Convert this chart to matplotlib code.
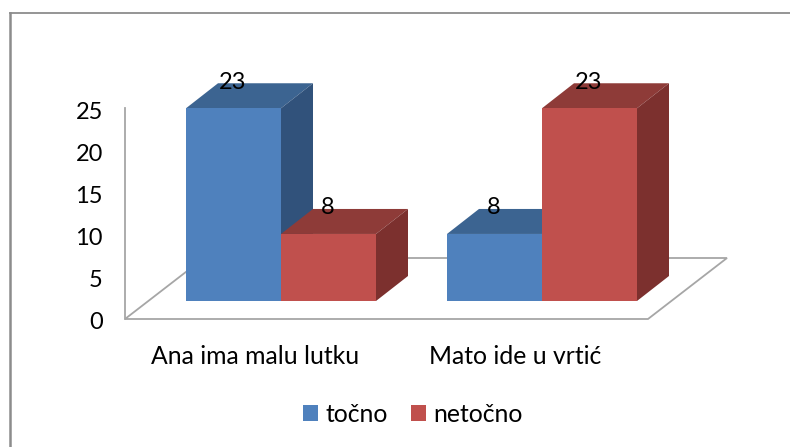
import matplotlib
matplotlib.use("Agg")
import numpy as np
import matplotlib.pyplot as plt
from matplotlib.lines import Line2D
from matplotlib.patches import Polygon, Patch
from matplotlib.transforms import Affine2D

plt.rcParams['font.family'] = ['Lato', 'DejaVu Sans']

categories = ["Ana ima malu lutku", "Mato ide u vrtić"]
series_names = ["točno", "netočno"]
tocno = [23, 8]
netocno = [8, 23]
y_ticks = [0, 5, 10, 15, 20, 25]

W, H = 790, 447
fig = plt.figure(figsize=(W / 100, H / 100), dpi=100)
fig.patch.set_facecolor("white")

# frame of the chart area (only left and top survive in the screenshot)
fig.add_artist(Line2D([10 / W, 10 / W], [0, 1 - 13 / H], color="#8c8c8c", lw=1.8))
fig.add_artist(Line2D([10 / W, 1], [1 - 13 / H, 1 - 13 / H], color="#8c8c8c", lw=1.3))

# axes spans the left wall to the front right floor corner
left, right, bottom, top = 125, 648, 319, 109.5
ax = fig.add_axes([left / W, 1 - bottom / H, (right - left) / W, (bottom - top) / H])
cat_px = 261.0
y_px = (bottom - top) / 25.0
ax.set_xlim((left - 281) / cat_px, (right - 281) / cat_px)
ax.set_ylim(0, 25)
ax.patch.set_alpha(0)

for s in ["top", "right", "bottom"]:
    ax.spines[s].set_visible(False)
ax.spines["left"].set_color("#a6a6a6")
ax.spines["left"].set_linewidth(1.3)
ax.spines["left"].set_bounds(0, 25.2)

# floor
fdx, fdy = 79 / cat_px, 61 / y_px
x0, x1 = ax.get_xlim()
ax.add_patch(Polygon([(x0, 0), (x1, 0), (x1 + fdx, fdy), (x0 + fdx, fdy)], closed=True,
                     fc="white", ec="#a6a6a6", lw=1.3, clip_on=False, zorder=1))

# bars sit 18 px in front of the axis base line in screen space
bar_tr = ax.transData + Affine2D().translate(0, 18)
width = 95 / cat_px
dx, dy = 32 / cat_px, 25 / y_px
x = np.arange(len(categories))

styles = [
    (tocno, -width / 2, "#4f81bd", "#3c6491", "#31527b"),
    (netocno, width / 2, "#c0504d", "#8e3b38", "#7c302e"),
]
z = 2
for i in x:
    for vals, off, front, roof, side in styles:
        v = vals[i]
        xl = i + off - width / 2
        xr = xl + width
        ax.add_patch(Polygon([(xl, v), (xr, v), (xr + dx, v + dy), (xl + dx, v + dy)], closed=True,
                             fc=roof, ec="none", transform=bar_tr, clip_on=False, zorder=z))
        ax.add_patch(Polygon([(xr, 0), (xr + dx, dy), (xr + dx, v + dy), (xr, v)], closed=True,
                             fc=side, ec="none", transform=bar_tr, clip_on=False, zorder=z))
        ax.bar(i + off, v, width=width, color=front, transform=bar_tr, clip_on=False, zorder=z + 0.5)
        ax.annotate(str(v), (i + off, v), xycoords=bar_tr, xytext=(-0.5, 26 * 0.72), textcoords="offset points",
                    ha="center", va="center", fontsize=17, color="black", zorder=50)
        z += 1

ax.set_yticks(y_ticks)
ax.set_xticks(x - np.array([26, 27]) / cat_px, categories)
ax.tick_params(axis="y", length=0, pad=16, labelsize=17)
ax.tick_params(axis="x", length=0, pad=19, labelsize=17.8)
for lab in ax.get_yticklabels():
    lab.set_y(lab.get_position()[1])
    lab.set_transform(lab.get_transform() + Affine2D().translate(0, -1.5))

handles = [Patch(fc="#4f81bd", ec="none"), Patch(fc="#c0504d", ec="none")]
fig.legend(handles, series_names, loc="center", bbox_to_anchor=(413 / W, 1 - 414 / H), ncol=2, frameon=False,
           fontsize=17.8, handlelength=0.62, handleheight=0.62, handletextpad=0.3, columnspacing=0.92)

fig.savefig("out.png", dpi=100)
